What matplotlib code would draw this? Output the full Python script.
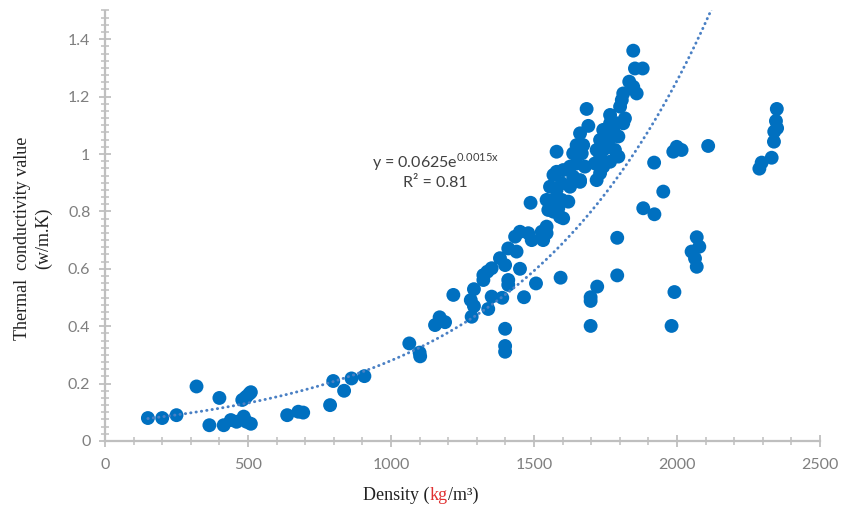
import numpy as np
import matplotlib
matplotlib.use("Agg")
import matplotlib.pyplot as plt
from matplotlib.ticker import MultipleLocator, FuncFormatter

# ---- data (density kg/m3, thermal conductivity W/m.K) ----
density = [
    150, 200, 250, 320, 365, 400, 415, 440, 460, 485, 480, 490, 495, 505, 510, 495, 510,
    637, 676, 693, 787, 798, 836, 862, 907, 1064, 1100, 1102, 1154, 1170, 1189,
    1218, 1282, 1279, 1290, 1290, 1340, 1352, 1389, 1399, 1399, 1399, 1323, 1337, 1323,
    1352, 1381, 1399, 1410, 1410, 1465, 1451, 1507, 1593, 1410, 1439, 1434, 1451, 1492,
    1480, 1532, 1544, 1488, 1544, 1527, 1544, 1556, 1568, 1591, 1602, 1550, 1585, 1568,
    1597, 1620, 1556, 1579, 1597, 1626, 1661, 1568, 1579, 1602, 1626, 1637, 1661, 1678,
    1649, 1637, 1667, 1649, 1672, 1661, 1690, 1684, 1579,
    1713, 1719, 1731, 1742, 1766, 1795, 1731, 1742, 1754, 1766, 1777, 1789, 1766, 1754,
    1731, 1719, 1795, 1783, 1766, 1742, 1801, 1807, 1812, 1818, 1812, 1833, 1847, 1859,
    1853, 1880, 1847,
    1882, 1921, 1952, 1920, 1791, 1791, 1721, 1698, 1698, 1698, 1981, 1991, 2069, 2078,
    2051, 2063, 2069, 1999, 2016, 1987, 2109,
    2349, 2346, 2350, 2340, 2339, 2331, 2296, 2288,
]
conductivity = [
    0.08, 0.08, 0.09, 0.19, 0.055, 0.15, 0.055, 0.073, 0.067, 0.085, 0.143, 0.15, 0.155, 0.165, 0.17, 0.067, 0.06,
    0.09, 0.102, 0.099, 0.125, 0.209, 0.175, 0.218, 0.226, 0.34, 0.308, 0.295, 0.404, 0.431, 0.414,
    0.509, 0.433, 0.491, 0.47, 0.529, 0.46, 0.503, 0.499, 0.391, 0.331, 0.311, 0.561, 0.59, 0.578,
    0.602, 0.637, 0.613, 0.561, 0.544, 0.501, 0.60, 0.549, 0.569, 0.671, 0.66, 0.712, 0.729, 0.70,
    0.724, 0.70, 0.724, 0.83, 0.747, 0.729, 0.84, 0.816, 0.799, 0.781, 0.776, 0.805, 0.811, 0.84,
    0.84, 0.834, 0.886, 0.875, 0.898, 0.886, 0.903, 0.927, 0.938, 0.944, 0.956, 0.921, 0.909, 0.956,
    0.967, 1.002, 1.002, 1.031, 1.031, 1.072, 1.098, 1.157, 1.008,
    0.967, 0.909, 0.933, 0.956, 0.973, 0.991, 0.985, 1.014, 1.037, 1.054, 1.084, 1.107, 1.107, 1.078,
    1.049, 1.014, 1.061, 1.014, 1.136, 1.084, 1.165, 1.188, 1.211, 1.124, 1.107, 1.252, 1.234, 1.211,
    1.298, 1.298, 1.36,
    0.811, 0.79, 0.869, 0.97, 0.708, 0.577, 0.538, 0.501, 0.488, 0.401, 0.401, 0.519, 0.71, 0.677,
    0.66, 0.636, 0.607, 1.025, 1.014, 1.008, 1.028,
    1.157, 1.115, 1.09, 1.078, 1.043, 0.987, 0.97, 0.949,
]

# exponential trend line y = a * exp(b x)
trend_a = 0.0625
trend_b = 0.0015
trend_label = "y = 0.0625e$^{\\mathregular{0.0015x}}$"
r2_label = "R² = 0.81"

x_ticks = [0, 500, 1000, 1500, 2000, 2500]
y_ticks = [0, 0.2, 0.4, 0.6, 0.8, 1.0, 1.2, 1.4]

# ---- figure ----
W, H = 841, 516
fig = plt.figure(figsize=(W / 100, H / 100), dpi=100)
ax = fig.add_axes([105 / W, 75 / H, 715 / W, 430.5 / H])

grey = "#BFBFBF"
tick_col = "#7F7F7F"

xt = np.linspace(min(density), 2200, 400)
ax.plot(xt, trend_a * np.exp(trend_b * xt), color="#4A80C4",
        linestyle=(0, (0.1, 1.75)), linewidth=2.1, dash_capstyle="round", zorder=3)

ax.scatter(density, conductivity, s=100, color="#0070C0", edgecolors="none", zorder=2)

ax.set_xlim(0, 2500)
ax.set_ylim(0, 1.5)

for side in ("top", "right"):
    ax.spines[side].set_visible(False)
for side in ("left", "bottom"):
    ax.spines[side].set_color(grey)
    ax.spines[side].set_linewidth(1.6)

ax.set_xticks(x_ticks)
ax.set_yticks(y_ticks)
ax.xaxis.set_minor_locator(MultipleLocator(100))
ax.yaxis.set_minor_locator(MultipleLocator(0.025))
ax.yaxis.set_major_formatter(FuncFormatter(lambda v, p: "%g" % round(v, 2)))
ax.xaxis.set_major_formatter(FuncFormatter(lambda v, p: "%d" % v))

ax.tick_params(which="major", direction="inout", length=9, width=1.3, color=grey,
               labelcolor=tick_col, labelsize=11.5)
ax.tick_params(which="minor", direction="inout", length=6, width=1.1, color=grey)
ax.tick_params(axis="x", which="major", pad=8)
ax.tick_params(axis="y", which="major", pad=6)
for lab in ax.get_xticklabels() + ax.get_yticklabels():
    lab.set_fontfamily("Lato")

# equation annotation
ax.text(0.462, 0.648, trend_label, transform=ax.transAxes, ha="center", va="center",
        fontsize=11.5, color="#404040", family="Lato")
ax.text(0.462, 0.599, r2_label, transform=ax.transAxes, ha="center", va="center",
        fontsize=11.5, color="#404040", family="Lato")

# y label (serif, two lines)
fig.text(33 / W, 1 - 238 / H, "Thermal  conductivity value\n(w/m.K)", rotation=90,
         ha="center", va="center", multialignment="center",
         fontsize=13, family="Liberation Serif", color="#222222", linespacing=1.3)

# x label with red "kg"
t1 = fig.text(363 / W, 1 - 495 / H, "Density (", ha="left", va="center",
              fontsize=13, family="Liberation Serif", color="#222222")
t2 = fig.text(0, 0, "kg", fontsize=13, family="Liberation Serif", color="#E03030")
t3 = fig.text(0, 0, "/m³)", fontsize=13, family="Liberation Serif", color="#222222")
fig.canvas.draw()
r = fig.canvas.get_renderer()
bb1 = t1.get_window_extent(r)
t2.set_position((bb1.x1 / W, bb1.y0 / H))
t2.set_va("bottom")
t1.set_va("bottom")
t1.set_position((363 / W, bb1.y0 / H))
fig.canvas.draw()
bb2 = t2.get_window_extent(r)
t3.set_position((bb2.x1 / W, bb1.y0 / H))
t3.set_va("bottom")

fig.savefig("out.png", dpi=100)
